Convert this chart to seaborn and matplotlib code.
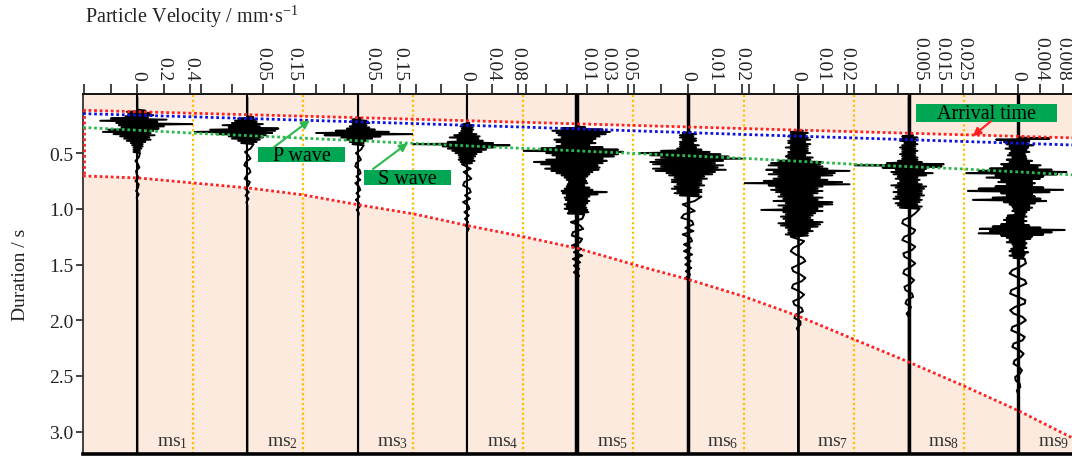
import matplotlib
matplotlib.use("Agg")
import matplotlib.pyplot as plt
from matplotlib.patches import Rectangle
import numpy as np
import pandas as pd
import seaborn as sns

# ---- amplitudes (integer units per trace, see TRACE_UNITS) ----
TRACE_UNITS = [0.01, 0.01, 0.01, 0.001, 0.001, 0.001, 0.001, 0.001, 0.0001]
BURST_START = [0.11, 0.17, 0.18, 0.22, 0.26, 0.30, 0.29, 0.33, 0.36]
BURST_DT = 0.01
CODA_DT = 0.03

T1_BURST = [0, 6, -8, 10, -7, 12, -9, 8, -20, 22, -28, 15, -16, 42, -14, 20, -12, 16, -22, 12,
            -26, 10, -18, 13, -13, 9, -10, 10, -8, 6, -5, 4, -4, 4, -3, 3, -3, 2, -3, 2]
T1_CODA = [1, -1.5, 0.5, 1.5, -1, -0.5, 1, -1.5, 1, 0.5, -1, 1, -0.5, 0]

T2_BURST = [0, 2, -3, 3, -4, 3, -5, 5, -8, 4, -6, 10, -12, 9, -17, 8, -10, 6, -6, 5,
            -5, 4, -3, 3, -2, 2]
T2_CODA = [1, -0.8, 0.3, 1.0, -0.5, -1.0, 0.6, 1.0, -0.2, -0.9, 0.8, 0.3, -0.7, 0.5, -0.6,
           0.4, -0.3, 0]

T3_BURST = [0, 1, -2, 3, -3, 4, -2, 3, -3, 4, -4, 6, -8, 11, -15, 20, -12, 8, -6, 5,
            -4, 3, -3, 2, -2, 2]
T3_CODA = [1, -0.8, 0.4, 1.0, -0.7, -1.0, 0.5, 0.9, -0.6, 0.8, -1.0, 0.3, 0.8, -0.6, 0.5,
           -0.8, 0.4, 0.6, -0.5, 0.3, 0]

T4_BURST = [0, 4, -6, 8, -10, 9, -8, 10, -9, 8, -12, 15, -20, 20, -27, 18, -15, 25, -30, 41,
            -85, 67, -38, 41, -30, 30, -23, 23, -18, 15, -13, 13, -12, 10, -13, 12, -10, 8, -8]
T4_CODA = [6, -5, 2, 7, -4, -6, 4, 6, -3, 5, -6, 2, 4, -4, 3, -3, 2, -2, 3, 0]

T5_BURST = [0, 8, -15, 25, -24, 32, -20, 28, -18, 22,
            -15, 18, -22, 15, -20, 18, -15, 12, -20, 25,
            -35, 40, -53, 45, -30, 40, -24, 36, -20, 25,
            -30, 29, -42, 25, -35, 20, -25, 22, -31, 21,
            -25, 15, -20, 12, -15, 10, -12, 8, -10, 9,
            -8, 10, -9, 7, -10, 12, -12, 15, -15, 29,
            -14, 20, -10, 12, -12, 10, -11, 12, -9, 10,
            -12, 8, -10, 9, -12, 10, -8, 11, -9, 7]
T5_CODA = [5, -6, 3, 6, -4, -5, 5, 3, -5, 4, -3, 5, -4, 3, -3, 2, -3, 2, 0]

T6_BURST = [0, 1, -2, 3, -3, 2, -3, 3, -2, 3,
            -3, 2, -3, 4, -3, 3, -4, 5, -10, 8,
            -18, 12, -14, 15, -10, 20, -12, 13, -14, 10,
            -13, 13, -10, 11, -13, 14, -12, 10, -8, 9,
            -7, 6, -5, 7, -6, 5, -6, 5, -4, 6,
            -5, 4, -6, 5, -4, 5, -5, 4, -3, 5]
T6_CODA = [2.5, -2, 0.5, 2.5, -1.5, -2.5, 1.5, 2, -1, 2, -2, 1, 1.5, -1.5, 1, -1.5, 1.5, -1,
           1, -1, 1.2, -0.8, 0.8, -1, 0.6, 0]

T7_BURST = [0, 2, -3, 4, -3, 3, -4, 4, -3, 5,
            -4, 3, -4, 5, -3, 4, -5, 4, -3, 4,
            -4, 5, -4, 3, -5, 6, -4, 5, -8, 10,
            -11, 9, -12, 10, -8, 12, -13, 21, -10, 15,
            -12, 14, -8, 9, -10, 12, -14, 18, -22, 21,
            -12, 10, -9, 8, -11, 10, -9, 8, -7, 6,
            -8, 10, -6, 8, -10, 14, -5, 14, -8, 10,
            -6, 8, -15, 10, -6, 7, -5, 6, -7, 5,
            -6, 6, -5, 10, -8, 9, -7, 8, -5, 5,
            -4, 6, -4, 4, -5, 4, -3]
T7_CODA = [2.5, 1, -2, -3, -1, 2, 3, 0.5, -2.5, -2, 1, 3, 1.5, -2, -2.5, 0.5, 2.5, 1, -2,
           -1.5, 1.5, 2, -1, -1.5, 1, 1, -0.5, 0]

T8_BURST = [0, 2, -3, 4, -3, 3, -4, 3, -2, 4,
            -3, 3, -4, 3, -3, 4, -3, 3, -4, 3,
            -3, 4, -3, 4, -5, 6, -10, 16, -25, 15,
            -12, 8, -6, 7, -8, 11, -7, 8, -5, 4,
            -6, 5, -4, 4, -5, 6, -8, 8, -6, 7,
            -5, 6, -7, 6, -5, 7, -6, 5, -7, 6,
            -4, 5, -6, 4, -5, 6, -4, 5]
T8_CODA = [3, 1, -2.5, -3, 0, 3, 2, -2, -3, 0.5, 3, 1.5, -2.5, -2, 1, 3, 1, -2, -2.5, 0.5,
           2.5, 1, -2, -1.5, 1.5, 2, -1, -1.5, 1, 0.5, -1, 0]

T9_BURST = [0, 56, -39, 20, -25, 15, -20, 27, -15, 18,
            -22, 15, -12, 20, -15, 12, -18, 14, -10, 15,
            -20, 25, -15, 20, -30, 40, -25, 35, -50, 60,
            -70, 86, -92, 70, -40, 45, -56, 39, -30, 25,
            -35, 30, -20, 25, -40, 45, -70, 80, -89, 56,
            -30, 25, -20, 30, -45, 40, -80, 50, -25, 30,
            -15, 20, -10, 25, -8, 20, -10, 15, -5, 12,
            -18, 15, -20, 10, -25, 15, -20, 10, -30, 20,
            -45, 40, -68, 83, -50, 60, -70, 45, -30, 25,
            -20, 22, -15, 12, -20, 15, -10, 12, -8, 15,
            -12, 10, -15, 18, -10, 12, -15, 10, -8, 12]
T9_CODA = [14, 4, -10, -15, -3, 12, 15, 2, -12, -14, 0, 13, 12, -5, -14, -8, 8, 14, 5, -10,
           -12, 2, 12, 8, -8, -10, 3, 10, 5, -6, -8, 2, 7, 3, -5, -4, 3, 4, -2, 0]

BURSTS = [T1_BURST, T2_BURST, T3_BURST, T4_BURST, T5_BURST, T6_BURST, T7_BURST, T8_BURST, T9_BURST]
CODAS = [T1_CODA, T2_CODA, T3_CODA, T4_CODA, T5_CODA, T6_CODA, T7_CODA, T8_CODA, T9_CODA]

# top axis of each panel
PANEL_LIMITS = [(-0.41, 0.42), (-0.175, 0.18), (-0.196, 0.197), (-0.084, 0.0885), (-0.0523, 0.0551),
                (-0.0202, 0.0206), (-0.0222, 0.0227), (-0.0252, 0.0252), (-0.00964, 0.00994)]
PANEL_TICKS = [[-0.4, -0.2, 0, 0.2, 0.4],
               [-0.15, -0.05, 0.05, 0.15],
               [-0.15, -0.05, 0.05, 0.15],
               [-0.08, -0.04, 0, 0.04, 0.08],
               [-0.05, -0.03, -0.01, 0.01, 0.03, 0.05],
               [-0.02, -0.01, 0, 0.01, 0.02],
               [-0.02, -0.01, 0, 0.01, 0.02],
               [-0.025, -0.015, -0.005, 0.005, 0.015, 0.025],
               [-0.008, -0.004, 0, 0.004, 0.008]]
PANEL_LABELS = [["", "", "0", "0.2", "0.4"],
                ["", "", "0.05", "0.15"],
                ["", "", "0.05", "0.15"],
                ["", "", "0", "0.04", "0.08"],
                ["", "", "", "0.01", "0.03", "0.05"],
                ["", "", "0", "0.01", "0.02"],
                ["", "", "0", "0.01", "0.02"],
                ["", "", "", "0.005", "0.015", "0.025"],
                ["", "", "0", "0.004", "0.008"]]
STATIONS = ["ms$_1$", "ms$_2$", "ms$_3$", "ms$_4$", "ms$_5$", "ms$_6$", "ms$_7$", "ms$_8$", "ms$_9$"]
Y_TICKS = [0.5, 1.0, 1.5, 2.0, 2.5, 3.0]

# guide curves, x in panel units (0..9)
GUIDE_U = [0, 1, 2, 3, 4, 5, 6, 7, 8, 9]
ARRIVAL_T = [0.116, 0.143, 0.169, 0.196, 0.224, 0.252, 0.280, 0.308, 0.336, 0.364]
P_WAVE_T = [0.146, 0.175, 0.205, 0.235, 0.267, 0.300, 0.333, 0.364, 0.396, 0.428]
S_WAVE_T = [0.270, 0.321, 0.366, 0.413, 0.458, 0.503, 0.547, 0.600, 0.643, 0.696]
LOWER_U = [0, 0.5, 1, 1.5, 2, 2.5, 3, 3.5, 4, 4.5, 5, 5.5, 6, 6.5, 7, 7.5, 8, 8.5, 9]
LOWER_T = [0.705, 0.723, 0.768, 0.813, 0.875, 0.964, 1.045, 1.152, 1.25, 1.357, 1.5, 1.634,
           1.786, 1.964, 2.17, 2.375, 2.589, 2.813, 3.063]

WIGGLE_LW = [1.4, 1.4, 1.4, 1.4, 1.5, 1.4, 1.4, 1.4, 1.5]
NOISE_LW = [1.5, 1.5, 1.5, 1.5, 3.2, 2.5, 1.9, 2.5, 2.4]
PEACH = "#FBEADD"
ORANGE = "#FFC000"
RED = "#FF2222"
BLUE = "#1010E0"
GREEN = "#2DB84F"
BOX_GREEN = "#00A651"
T_MAX = 3.2
Y_LIM = (3.2, -0.03)


def trace_frame(i):
    burst = np.asarray(BURSTS[i], dtype=float)
    coda = np.asarray(CODAS[i], dtype=float)
    t_burst = BURST_START[i] + BURST_DT * np.arange(len(burst))
    t_coda = t_burst[-1] + BURST_DT + CODA_DT * np.arange(1, len(coda) + 1)
    t = np.concatenate([[0.0], t_burst, t_coda, [T_MAX]])
    amp = np.concatenate([[0.0], burst, coda, [0.0]]) * TRACE_UNITS[i]
    return pd.DataFrame({"amp": amp, "time": t})


sns.set_theme(style="white")
plt.rcParams["font.family"] = ["Liberation Serif", "DejaVu Serif"]
plt.rcParams["mathtext.fontset"] = "custom"
plt.rcParams["mathtext.rm"] = "Liberation Serif"
plt.rcParams["mathtext.it"] = "Liberation Serif"
plt.rcParams["mathtext.default"] = "regular"

fig = plt.figure(figsize=(10.72, 4.6), dpi=100)
left, bottom = 83 / 1072, 5 / 460
pw = 110.1 / 1072
height = 360 / 460
width = 9 * pw

# background: shading, panel separators, y axis
bg = fig.add_axes([left, bottom, width, height], zorder=0)
bg.set_xlim(0, 9)
bg.set_ylim(*Y_LIM)
bg.set_facecolor(PEACH)
bg.fill_between(LOWER_U, np.interp(LOWER_U, GUIDE_U, ARRIVAL_T), LOWER_T, color="white", lw=0)
for u in range(1, 10):
    bg.axvline(u, color=ORANGE, ls=(0, (1, 1.2)), lw=1.6)
bg.set_xticks([])
bg.set_yticks(Y_TICKS)
bg.set_yticklabels([f"{v:.1f}" for v in Y_TICKS])
bg.tick_params(axis="y", left=True, direction="out", length=5, width=1.2, labelsize=14,
               colors="#222222", pad=2)
bg.set_ylabel("Duration / s", fontsize=14, color="#222222", labelpad=14)
bg.spines["right"].set_visible(False)
bg.spines["top"].set_color("black")
bg.spines["top"].set_linewidth(1.3)
bg.spines["bottom"].set_color("black")
bg.spines["bottom"].set_linewidth(2.6)
bg.spines["left"].set_color("#333333")
bg.spines["left"].set_linewidth(1.3)

# one axes per station
for i in range(9):
    ax = fig.add_axes([left + i * pw, bottom, pw, height], zorder=2)
    ax.patch.set_alpha(0)
    ax.axvline(0, color="black", lw=NOISE_LW[i])
    sns.lineplot(data=trace_frame(i), x="amp", y="time", orient="y", sort=False, estimator=None,
                 color="black", linewidth=WIGGLE_LW[i], ax=ax)
    ax.set_xlim(*PANEL_LIMITS[i])
    ax.set_ylim(*Y_LIM)
    ax.set_xlabel("")
    ax.set_ylabel("")
    ax.set_yticks([])
    ax.xaxis.tick_top()
    ax.set_xticks(PANEL_TICKS[i])
    ax.set_xticklabels(PANEL_LABELS[i], rotation=270)
    ax.tick_params(axis="x", top=True, bottom=False, direction="out", length=7, width=1.2,
                   labelsize=14, pad=3, colors="#222222")
    for s in ax.spines.values():
        s.set_visible(False)
    ax.text(0.955, 3.125, STATIONS[i], transform=ax.get_yaxis_transform(), ha="right",
            va="baseline", fontsize=14, color="#333333")

# guide lines and labels
ov = fig.add_axes([left, bottom, width, height], zorder=3)
ov.patch.set_alpha(0)
ov.axis("off")
ov.set_xlim(0, 9)
ov.set_ylim(*Y_LIM)
dots = (0, (1, 1))
ov.plot(GUIDE_U, ARRIVAL_T, color=RED, ls=dots, lw=2)
ov.plot(LOWER_U, LOWER_T, color=RED, ls=dots, lw=2)
ov.plot([0.006, 0.006], [ARRIVAL_T[0], LOWER_T[0]], color=RED, ls=dots, lw=2)
ov.plot(GUIDE_U, P_WAVE_T, color=BLUE, ls=dots, lw=2)
ov.plot(GUIDE_U, S_WAVE_T, color=GREEN, ls=dots, lw=2)

boxes = [("P wave", 1.59, 0.446, 0.79, 0.134),
         ("S wave", 2.55, 0.652, 0.79, 0.134),
         ("Arrival time", 7.57, 0.0625, 1.28, 0.16)]
for label, u0, t0, w, h in boxes:
    ov.add_patch(Rectangle((u0, t0), w, h, facecolor=BOX_GREEN, edgecolor="none"))
    ov.text(u0 + w / 2, t0 + h / 2 + 0.005, label, ha="center", va="center", fontsize=14.5,
            color="black")

arrow = dict(arrowstyle="-|>", lw=1.5, mutation_scale=12, shrinkA=0, shrinkB=0)
ov.annotate("", xy=(2.06, 0.205), xytext=(1.735, 0.446), arrowprops={**arrow, "color": GREEN})
ov.annotate("", xy=(2.95, 0.41), xytext=(2.634, 0.643), arrowprops={**arrow, "color": GREEN})
ov.annotate("", xy=(8.08, 0.348), xytext=(8.247, 0.214), arrowprops={**arrow, "color": RED})

fig.text(85 / 1072, 1 - 17 / 460, "Particle Velocity / mm·s$^{-1}$", fontsize=14.5,
         color="#222222", ha="left", va="center")

fig.savefig("out.png", dpi=100)
plt.close(fig)
